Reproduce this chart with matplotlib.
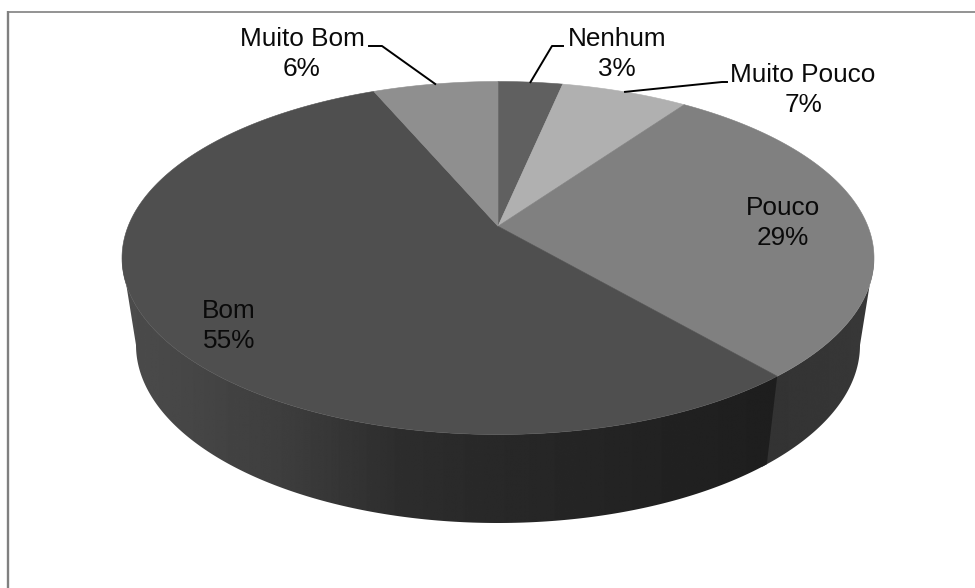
import numpy as np
import matplotlib
matplotlib.use('Agg')
import matplotlib.pyplot as plt
from matplotlib.patches import Polygon

categories = ['Nenhum', 'Muito Pouco', 'Pouco', 'Bom', 'Muito Bom']
values = [3.3, 6.5, 28.9, 54.9, 6.4]
percent_labels = ['3%', '7%', '29%', '55%', '6%']
top_colors = ['#606060', '#b0b0b0', '#808080', '#4f4f4f', '#8f8f8f']

# layout in pixels
text_pos = {'Nenhum': (617, 54), 'Muito Pouco': (803, 90), 'Pouco': (783, 223),
            'Bom': (229, 326), 'Muito Bom': (302, 54)}
elbows = {'Nenhum': [(552, 46), (563, 46)], 'Muito Pouco': [(722, 82), (727, 82)],
          'Muito Bom': [(382, 46), (369, 46)]}

top_c = (498, 258, 376, 176.5)
bot_c = (498, 345, 362, 178)
k = 0.18  # perspective shift of the pie apex


def project(theta):
    # clockwise angle from 12 o'clock -> normalised ellipse coordinates
    u, v = np.sin(theta), np.cos(theta)
    d = 1 + k * v
    return u * np.sqrt(1 - k**2) / d, (v + k) / d


def on_ellipse(e, u, v):
    return e[0] + e[2] * u, e[1] - e[3] * v


def wall(phi0, phi1, xs, greys):
    # side wall between two ellipse parameters, filled with a horizontal gradient
    phi = np.linspace(phi0, phi1, 200)
    xt, yt = on_ellipse(top_c, np.cos(phi), np.sin(phi))
    xb, yb = on_ellipse(bot_c, np.cos(phi), np.sin(phi))
    pts = np.c_[np.r_[xt, xb[::-1]], np.r_[yt, yb[::-1]]]
    x0, x1 = pts[:, 0].min(), pts[:, 0].max()
    grad = np.interp(np.linspace(x0, x1, 800), xs, greys)[None, :]
    im = ax.imshow(grad, extent=[x0, x1, 530, 250], aspect='auto', cmap='gray',
                   vmin=0, vmax=255, interpolation='bilinear')
    clip = Polygon(pts, closed=True, transform=ax.transData)
    im.set_clip_path(clip)


fig = plt.figure(figsize=(9.75, 5.88), dpi=100)
ax = fig.add_axes([0, 0, 1, 1])
ax.axis('off')

edges = np.cumsum([0] + values) / sum(values) * 2 * np.pi

# side wall, lower half of the ellipses; the lighter part goes under to hide the seam
seam = 2 * np.pi - np.arccos(project(edges[3])[0])
wall(seam - 0.02, 2 * np.pi, [772, 874], [0x33, 0x38])
wall(np.pi, seam, [122, 280, 400, 500, 600, 772], [0x4c, 0x3e, 0x2d, 0x28, 0x24, 0x1e])

# top face
apex = on_ellipse(top_c, 0, k)
for i in range(len(values)):
    t = np.linspace(edges[i], edges[i + 1], 200)
    x, y = on_ellipse(top_c, *project(t))
    ax.fill(np.r_[apex[0], x], np.r_[apex[1], y], color=top_colors[i], lw=0.4)

# labels
for i, name in enumerate(categories):
    tx, ty = text_pos[name]
    ax.text(tx, ty, name + '\n' + percent_labels[i], ha='center', va='center',
            family='Liberation Sans', fontsize=18.8, color='#0a0a0a', linespacing=1.33)
    if name in elbows:
        mid = (edges[i] + edges[i + 1]) / 2
        px, py = on_ellipse(top_c, *project(mid))
        pts = [(px, py)] + elbows[name]
        ax.plot([p[0] for p in pts], [p[1] for p in pts], color='black', lw=1.4)

# chart frame, only top and left show
ax.plot([7.8, 7.8], [11, 588], color='#808080', lw=1.7, solid_capstyle='butt')
ax.plot([7, 975], [11.7, 11.7], color='#808080', lw=1.2, solid_capstyle='butt')

ax.set_xlim(0, 975)
ax.set_ylim(588, 0)
fig.savefig('out.png', dpi=100)
